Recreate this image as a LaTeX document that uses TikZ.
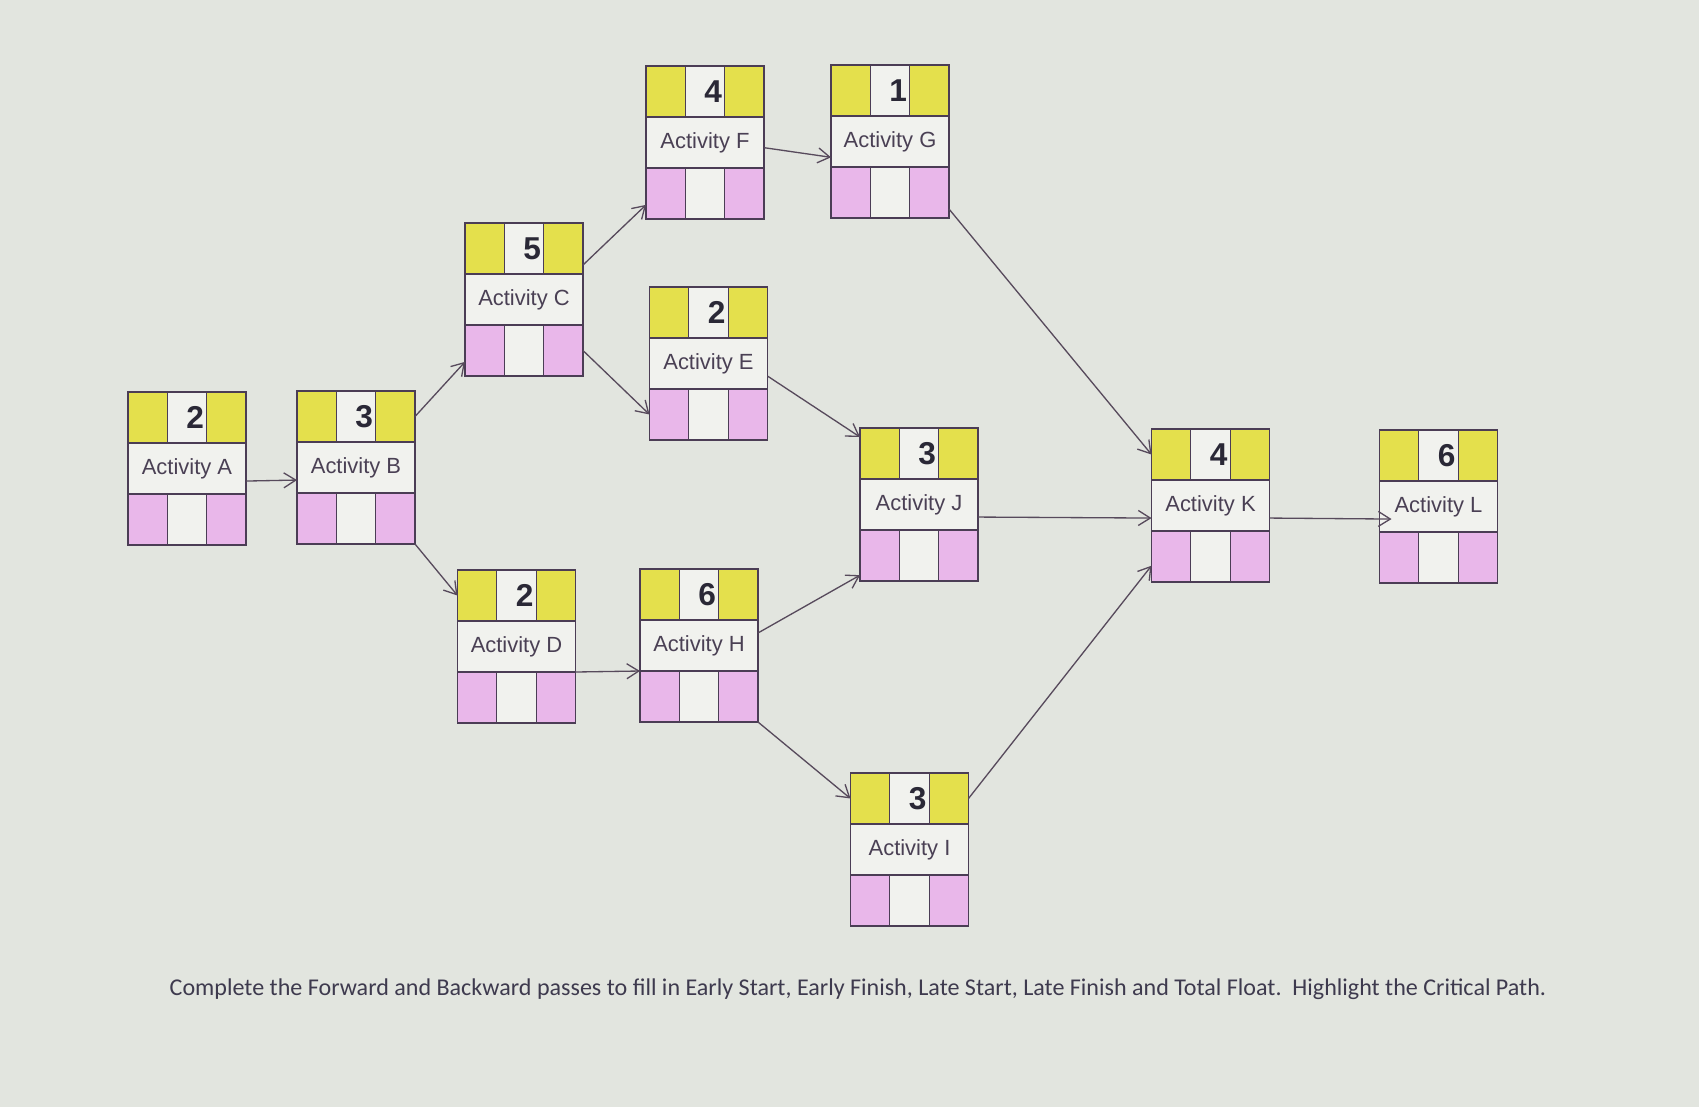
\documentclass[tikz,border=0pt]{standalone}
\usepackage{fontspec}
\usepackage{xcolor}
\usepackage{tikz}
\usetikzlibrary{arrows.meta}
\setmainfont{Liberation Sans}
\newfontfamily\notefont{Carlito}

\definecolor{paper}{HTML}{E2E5DF}
\definecolor{cellyellow}{HTML}{E4E04C}
\definecolor{cellpink}{HTML}{E9B7EA}
\definecolor{cellwhite}{HTML}{F1F2EE}
\definecolor{boxline}{HTML}{4B3D55}
\definecolor{linkcol}{HTML}{574A5C}
\definecolor{labeltext}{HTML}{4A4054}
\definecolor{numtext}{HTML}{2A2836}
\definecolor{notetext}{HTML}{3E3A4E}

\tikzset{
  box/.style={draw=boxline, line width=0.7pt, inner sep=0pt, outer sep=0pt},
  midcell/.style={box, fill=cellwhite, minimum width=2.36cm, minimum height=1.02cm,
    text=labeltext, font=\fontsize{12.5}{14}\selectfont},
  cell/.style={box, minimum width=0.7867cm, minimum height=1.02cm},
  yel/.style={cell, fill=cellyellow},
  pnk/.style={cell, fill=cellpink},
  wht/.style={cell, fill=cellwhite},
  durcell/.style={wht, text=numtext, text width=0.68cm, align=right,
    font=\bfseries\fontsize{18}{20}\selectfont},
  link/.style={draw=linkcol, line width=0.75pt,
    -{Straight Barb[length=0.24cm,width=0.3cm]}}
}

% name, x, y, duration, label
\newcommand{\activity}[5]{%
  \node[midcell] (#1-mid) at (#2,#3) {#5};
  \node[yel, anchor=south west] (#1-tl) at (#1-mid.north west) {};
  \node[durcell, anchor=south] (#1-tm) at (#1-mid.north) {#4};
  \node[yel, anchor=south east] (#1-tr) at (#1-mid.north east) {};
  \node[pnk, anchor=north west] (#1-bl) at (#1-mid.south west) {};
  \node[wht, anchor=north] (#1-bm) at (#1-mid.south) {};
  \node[pnk, anchor=north east] (#1-br) at (#1-mid.south east) {};
}

\begin{document}
\begin{tikzpicture}[x=0.02cm, y=-0.02cm]
    \fill[paper] (0,0) rectangle (1699,1107);
    \useasboundingbox (0,0) rectangle (1699,1107);

    % activities (centre of the label row)
    \activity{A}{187}{468.5}{2}{Activity A}
    \activity{B}{356}{467.5}{3}{Activity B}
    \activity{C}{524}{299.5}{5}{Activity C}
    \activity{D}{516.5}{646.5}{2}{Activity D}
    \activity{E}{708.5}{363.5}{2}{Activity E}
    \activity{F}{705}{142.5}{4}{Activity F}
    \activity{G}{890}{141.5}{1}{Activity G}
    \activity{H}{699}{645.5}{6}{Activity H}
    \activity{J}{919}{504.5}{3}{Activity J}
    \activity{I}{909.5}{849.5}{3}{Activity I}
    \activity{K}{1210.5}{505.5}{4}{Activity K}
    \activity{L}{1438.5}{506.5}{6}{Activity L}

    % dependencies
    \draw[link] (A-mid.-12) -- (B-mid.-168);
    \draw[link] (B-tr.east) -- (C-bl.210);
    \draw[link] (B-br.south east) -- (D-tl.west);
    \draw[link] (C-tr.-40) -- (F-bl.210);
    \draw[link] (C-br.east) -- (E-bl.west);
    \draw[link] (F-mid.-5) -- (G-mid.195);
    \draw[link] (E-mid.-12) -- (J-tl.140);
    \draw[link] (G-br.-40) -- (K-tl.west);
    \draw[link] (D-mid.south east) -- (H-mid.south west);
    \draw[link] (H-mid.12) -- (J-bl.-135);
    \draw[link] (H-br.south east) -- (I-tl.west);
    \draw[link] (I-tr.east) -- (K-bl.-155);
    \draw[link] (J-mid.-12) -- (K-mid.-168);
    \draw[link] (K-mid.-12) -- ([xshift=0.24cm]L-mid.-168);

    \node[text=notetext, font=\notefont\fontsize{13.7}{16}\selectfont] (note) at (858,989)
        {Complete the Forward and Backward passes to fill in Early Start, Early Finish, Late Start, Late Finish and Total Float.\ \ Highlight the Critical Path.};
\end{tikzpicture}
\end{document}
